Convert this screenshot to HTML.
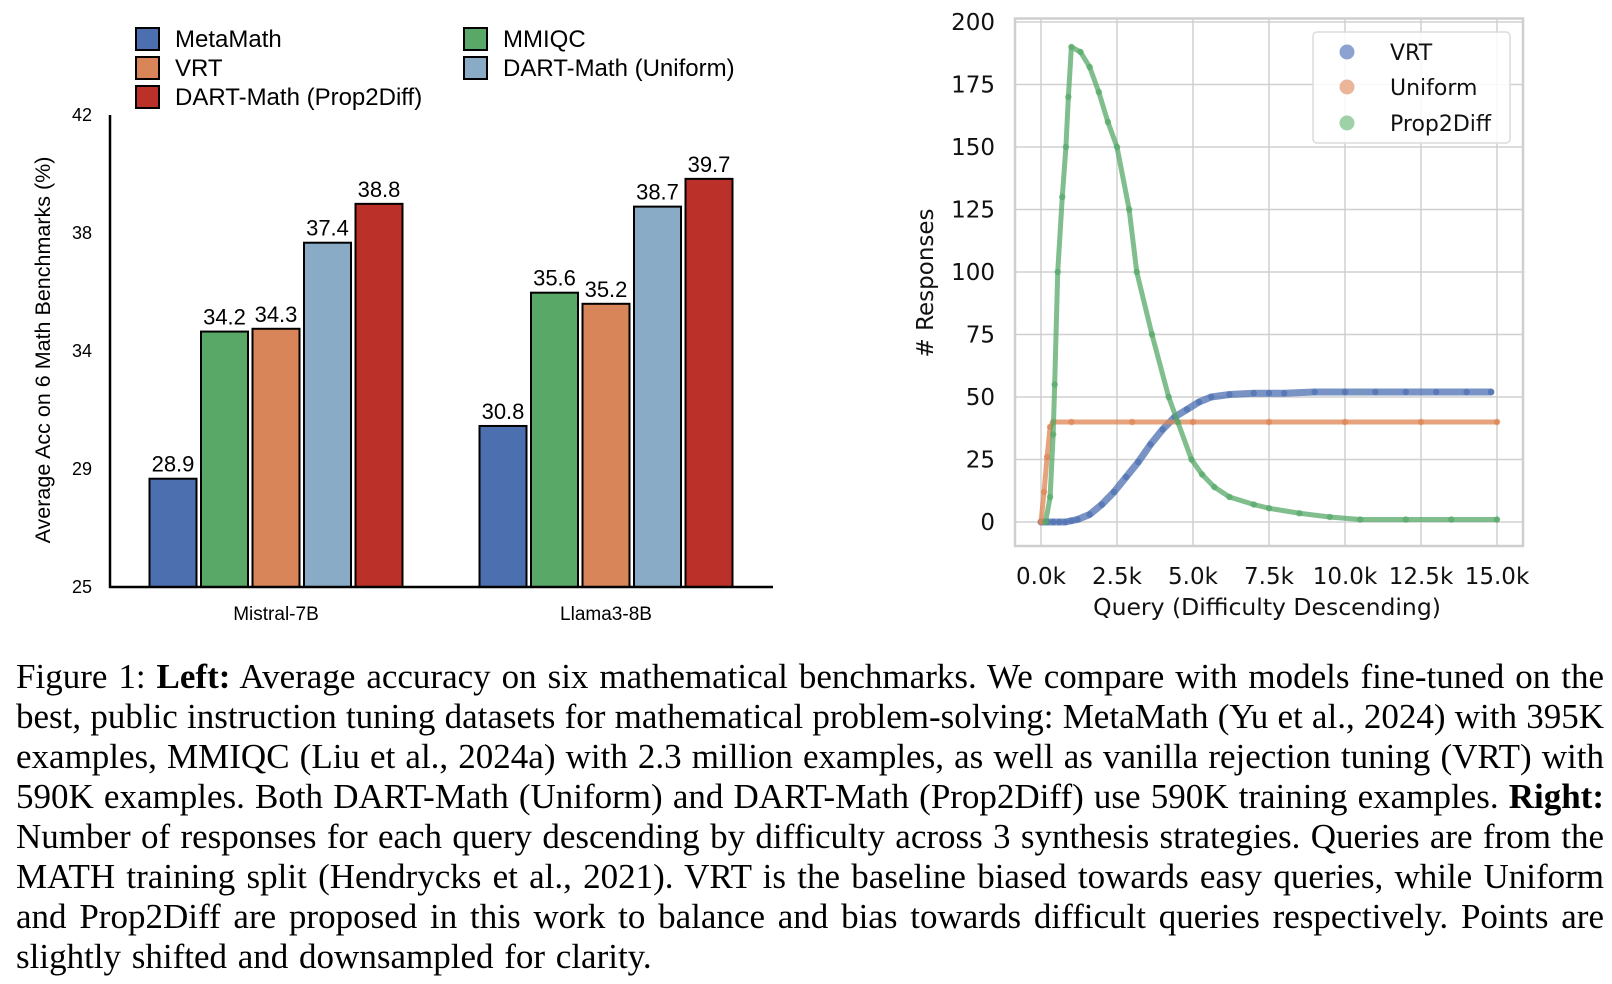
<!DOCTYPE html>
<html><head><meta charset="utf-8"><style>
body{margin:0;width:1612px;height:984px;background:#fff;overflow:hidden;position:relative;font-family:"Liberation Sans",sans-serif}
#cap{position:absolute;left:16px;top:657px;width:1588px;font-family:"Liberation Serif",serif;font-size:35px;line-height:40px;color:#000;text-align:justify}
#cap div{text-align:justify;text-align-last:justify;white-space:nowrap}
#cap div.last{text-align-last:left;word-spacing:2px}
</style></head><body>
<svg id="chart" width="1612" height="650" style="position:absolute;left:0;top:0" font-family="Liberation Sans, sans-serif"></svg>
<div id="cap">
<div>Figure 1: <b>Left:</b> Average accuracy on six mathematical benchmarks. We compare with models fine-tuned on the</div>
<div>best, public instruction tuning datasets for mathematical problem-solving: MetaMath (Yu et al., 2024) with 395K</div>
<div>examples, MMIQC (Liu et al., 2024a) with 2.3 million examples, as well as vanilla rejection tuning (VRT) with</div>
<div>590K examples. Both DART-Math (Uniform) and DART-Math (Prop2Diff) use 590K training examples. <b>Right:</b></div>
<div>Number of responses for each query descending by difficulty across 3 synthesis strategies. Queries are from the</div>
<div>MATH training split (Hendrycks et al., 2021). VRT is the baseline biased towards easy queries, while Uniform</div>
<div>and Prop2Diff are proposed in this work to balance and bias towards difficult queries respectively. Points are</div>
<div class="last">slightly shifted and downsampled for clarity.</div>
</div>
<script>
const groups=["Mistral-7B","Llama3-8B"];
const seriesNames=["MetaMath","MMIQC","VRT","DART-Math (Uniform)","DART-Math (Prop2Diff)"];
const mistralVals=[28.9,34.2,34.3,37.4,38.8];
const llamaVals=[30.8,35.6,35.2,38.7,39.7];
const barTicks=[25,29,34,38,42];
const vrtX=[0,0.2,0.4,0.6,0.8,1.0,1.2,1.6,2.0,2.4,2.8,3.2,3.6,4.0,4.4,4.8,5.2,5.6,6.2,7,7.5,8,9,10,11,12,13,14,14.8];
const vrtY=[0,0,0,0,0,0.5,1,3,7,12,18,24,31,37,42,45,48,50,51,51.5,51.5,51.5,52,52,52,52,52,52,52];
const uniX=[0,0.1,0.2,0.3,0.4,1,3,5,7.5,10,12.5,15];
const uniY=[0,12,26,38,40,40,40,40,40,40,40,40];
const p2dX=[0.15,0.3,0.4,0.45,0.55,0.7,0.82,0.9,1.0,1.3,1.6,1.9,2.2,2.5,2.9,3.15,3.65,4.2,4.5,4.95,5.3,5.7,6.2,7,7.5,8.5,9.5,10.5,12,13.5,15];
const p2dY=[0,10,35,55,100,130,150,170,190,188,182,172,160,150,125,100,75,50,40,25,19,14,10,7,5.5,3.5,2,1,1,1,1];
const xTicks=["0.0k","2.5k","5.0k","7.5k","10.0k","12.5k","15.0k"];
const yTicks=[0,25,50,75,100,125,150,175,200];

const svg=document.getElementById('chart');
const NS="http://www.w3.org/2000/svg";
function mk(tag,attrs,txt){const e=document.createElementNS(NS,tag);for(const k in attrs)e.setAttribute(k,attrs[k]);if(txt!==undefined)e.textContent=txt;svg.appendChild(e);return e;}
const colors=["#4c6fb0","#59a868","#d8855a","#8aabc6","#bb3028"];
const DJ="DejaVu Sans, sans-serif";

// ---- left bar chart
const by=v=>587-(v-25)/(42-25)*472;
const gCenter=[276,606];
const slot=51.5,bw=47;
let e;
barTicks.forEach((t,i)=>{const yy=587-i*472/4;
e=mk('text',{x:92,y:yy+6,'text-anchor':'end','font-size':18,fill:'#000'},t);

});
[mistralVals,llamaVals].forEach((vals,g)=>{
 vals.forEach((v,i)=>{
  const x=gCenter[g]+(i-2)*slot-bw/2;
  e=mk('rect',{x:x,y:by(v),width:bw,height:587-by(v),fill:colors[i],stroke:'#000','stroke-width':2});
  
  
  e=mk('text',{x:x+bw/2,y:by(v)-7,'text-anchor':'middle','font-size':22,fill:'#000'},v.toFixed(1));
  
  
 });
 e=mk('text',{x:gCenter[g],y:620,'text-anchor':'middle','font-size':19,fill:'#000'},groups[g]);
 
 
});
e=mk('line',{x1:110,y1:115,x2:110,y2:588,stroke:'#000','stroke-width':2.5});

e=mk('line',{x1:109,y1:587,x2:773,y2:587,stroke:'#000','stroke-width':2.5});

e=mk('text',{x:0,y:0,'text-anchor':'middle','font-size':21.5,fill:'#000',transform:'translate(50,350) rotate(-90)'},'Average Acc on 6 Math Benchmarks (%)');

const legPos=[[136,28],[464,28],[136,57],[464,57],[136,86]];
const legOrder=[0,1,2,3,4];
legOrder.forEach((si,k)=>{const [lx,ly]=legPos[k];
 e=mk('rect',{x:lx,y:ly,width:23,height:22,fill:colors[si],stroke:'#000','stroke-width':2});
 
 e=mk('text',{x:lx+39,y:ly+19,'font-size':24,fill:'#000'},seriesNames[si]);
 
});

// ---- right scatter
const X0=1041,X1=1497,Y0=522;
const sx=k=>X0+k/15*(X1-X0);
const sy=v=>Y0-v/200*(Y0-22);
yTicks.forEach(t=>{e=mk('line',{x1:1015,x2:1523,y1:sy(t),y2:sy(t),stroke:'#d0d0d0','stroke-width':1.5});
 
 e=mk('text',{x:995,y:sy(t)+8,'text-anchor':'end','font-size':23,'font-family':DJ,fill:'#111'},t);
 });
xTicks.forEach((t,i)=>{const xx=sx(i*2.5);
 e=mk('line',{x1:xx,x2:xx,y1:18,y2:546,stroke:'#d0d0d0','stroke-width':1.5});
 
 e=mk('text',{x:xx,y:584,'text-anchor':'middle','font-size':23,'font-family':DJ,fill:'#111'},t);
 });
e=mk('rect',{x:1015,y:18.5,width:508,height:527.5,fill:'none',stroke:'#cfcfcf','stroke-width':2.5});

function series(xs,ys,col,name,w){
 const pts=xs.map((x,i)=>sx(x)+','+sy(ys[i])).join(' ');
 e=mk('polyline',{points:pts,fill:'none',stroke:col,'stroke-width':w,'stroke-opacity':0.75,'stroke-linejoin':'round','stroke-linecap':'round'});
 
 xs.forEach((x,i)=>{e=mk('circle',{cx:sx(x),cy:sy(ys[i]),r:3.2,fill:col,'fill-opacity':0.7});
  });
}
series(vrtX,vrtY,'#4c6fb0','vrt',7);
series(uniX,uniY,'#dd8452','uniform',5);
series(p2dX,p2dY,'#55a868','prop2diff',5);
e=mk('rect',{x:1313,y:32,width:197,height:111,rx:4,fill:'#fff','fill-opacity':0.85,stroke:'#dcdcdc','stroke-width':1.5});

[['VRT','#8da2d0',52],['Uniform','#eab598',87],['Prop2Diff','#9fd1a8',123]].forEach(([n,c,yy])=>{
 e=mk('circle',{cx:1347,cy:yy,r:7.5,fill:c});
 
 e=mk('text',{x:1390,y:yy+8,'font-size':22,'font-family':DJ,fill:'#111'},n);
 
});
e=mk('text',{x:1267,y:615,'text-anchor':'middle','font-size':23.5,'font-family':DJ,fill:'#111'},'Query (Difficulty Descending)');

e=mk('text',{x:0,y:0,'text-anchor':'middle','font-size':23,'font-family':DJ,fill:'#111',transform:'translate(933,283) rotate(-90)'},'# Responses');

</script>
</body></html>
